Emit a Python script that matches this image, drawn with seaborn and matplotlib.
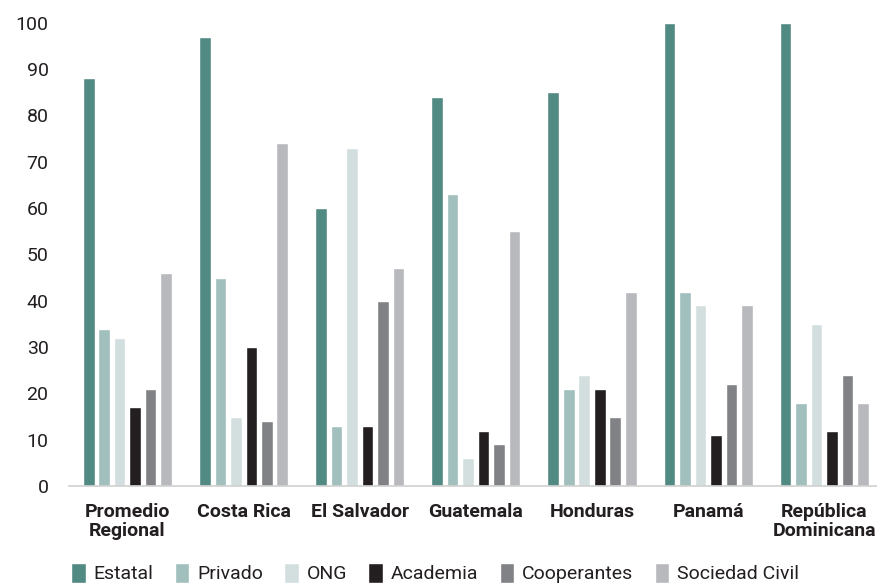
import matplotlib
matplotlib.use("Agg")
import matplotlib.pyplot as plt
import pandas as pd
import seaborn as sns

paises = ["Promedio\nRegional", "Costa Rica", "El Salvador", "Guatemala",
          "Honduras", "Panamá", "República\nDominicana"]
actores = ["Estatal", "Privado", "ONG", "Academia", "Cooperantes", "Sociedad Civil"]

estatal = [88, 97, 60, 84, 85, 100, 100]
privado = [34, 45, 13, 63, 21, 42, 18]
ong = [32, 15, 73, 6, 24, 39, 35]
academia = [17, 30, 13, 12, 21, 11, 12]
cooperantes = [21, 14, 40, 9, 15, 22, 24]
sociedad_civil = [46, 74, 47, 55, 42, 39, 18]

colores = ["#518a82", "#a0bfbd", "#d3dfdf", "#231f20", "#818285", "#b8b9bd"]

series = [estatal, privado, ong, academia, cooperantes, sociedad_civil]
rows = []
for actor, vals in zip(actores, series):
    for p, v in zip(paises, vals):
        rows.append({"pais": p, "actor": actor, "valor": v})
df = pd.DataFrame(rows)

sns.set_style("white")
plt.rcParams["font.family"] = ["Roboto", "DejaVu Sans"]
texto = "#231f20"

fig = plt.figure(figsize=(8.78, 5.85), dpi=100)
ax = fig.add_axes([0.079, 0.169, 0.926, 0.792])

sns.barplot(data=df, x="pais", y="valor", hue="actor", order=paises,
            hue_order=actores, palette=colores, width=0.8, gap=0.25,
            saturation=1, ax=ax, legend=True)

ax.set_ylim(0, 100)
ax.set_xlim(-0.5, 6.5)
ax.set_yticks(range(0, 101, 10))
ax.set_xlabel("")
ax.set_ylabel("")
for s in ["top", "right", "left"]:
    ax.spines[s].set_visible(False)
ax.spines["bottom"].set_color("#d0d0d0")
ax.spines["bottom"].set_linewidth(1.2)
ax.tick_params(axis="y", length=0, pad=15, labelsize=14, labelcolor=texto)
ax.tick_params(axis="x", length=0, pad=12, labelsize=14, labelcolor=texto)
for lab in ax.get_xticklabels():
    lab.set_fontweight("bold")
    lab.set_linespacing(1.1)

handles, labels = ax.get_legend_handles_labels()
ax.legend_.remove()
fig.legend(handles, labels, loc="center", bbox_to_anchor=(435 / 878, 1 - 573 / 585),
           ncol=6, frameon=False, fontsize=14, handlelength=0.75, handleheight=1.2,
           handletextpad=0.4, columnspacing=1.1, labelcolor=texto, borderaxespad=0)

fig.savefig("out.png", dpi=100)
